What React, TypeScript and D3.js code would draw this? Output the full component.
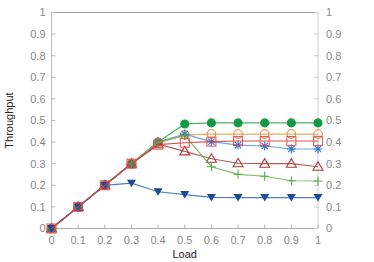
import React, { useEffect, useRef } from "react";
import * as d3 from "d3";

const loads = [0, 0.1, 0.2, 0.3, 0.4, 0.5, 0.6, 0.7, 0.8, 0.9, 1];
const yTicks = [0, 0.1, 0.2, 0.3, 0.4, 0.5, 0.6, 0.7, 0.8, 0.9, 1];

const greenCircle = [0, 0.1, 0.2, 0.3, 0.4, 0.484, 0.489, 0.489, 0.489, 0.489, 0.489];
const orangeCircle = [0, 0.1, 0.2, 0.3, 0.395, 0.433, 0.437, 0.437, 0.437, 0.437, 0.437];
const blueStar = [0, 0.1, 0.2, 0.3, 0.4, 0.437, 0.402, 0.386, 0.382, 0.368, 0.368];
const darkRedTri = [0, 0.1, 0.2, 0.3, 0.39, 0.357, 0.323, 0.302, 0.3, 0.3, 0.286];
const greenPlus = [0, 0.1, 0.2, 0.3, 0.4, 0.43, 0.286, 0.251, 0.242, 0.221, 0.22];
const navyTri = [0, 0.1, 0.2, 0.21, 0.17, 0.157, 0.144, 0.143, 0.143, 0.143, 0.143];
const redSquare = [0, 0.1, 0.2, 0.3, 0.388, 0.397, 0.402, 0.405, 0.405, 0.405, 0.405];

type Series = { values: number[]; color: string; line: string; marker: string; fill: boolean };

const series: Series[] = [
  { values: greenCircle, color: "#119944", line: "#3aaa5a", marker: "circle", fill: true },
  { values: orangeCircle, color: "#f08a3a", line: "#f0a050", marker: "circle", fill: false },
  { values: blueStar, color: "#2f78cc", line: "#5c9ee0", marker: "star", fill: false },
  { values: darkRedTri, color: "#a83a3a", line: "#b04848", marker: "triangle", fill: false },
  { values: greenPlus, color: "#5aa845", line: "#70b858", marker: "plus", fill: false },
  { values: navyTri, color: "#1a4a9a", line: "#3a70c0", marker: "triDown", fill: true },
  { values: redSquare, color: "#e84a50", line: "#d83a3a", marker: "square", fill: false },
];

export default function App() {
  const ref = useRef<SVGSVGElement>(null);

  useEffect(() => {
    const svg = d3.select(ref.current);
    svg.selectAll("*").remove();
    const left = 51.5, right = 318, top = 12.5, bottom = 228.5;
    const x = d3.scaleLinear().domain([0, 1]).range([left, right]);
    const y = d3.scaleLinear().domain([0, 1]).range([bottom, top]);
    const font = "'Liberation Sans', Arial, sans-serif";

    // frame
    svg.append("line").attr("x1", left).attr("x2", right).attr("y1", top).attr("y2", top)
      .attr("stroke", "#999");
    svg.append("line").attr("x1", left).attr("x2", left).attr("y1", top).attr("y2", bottom)
      .attr("stroke", "#bbb");
    svg.append("line").attr("x1", right).attr("x2", right).attr("y1", top).attr("y2", bottom)
      .attr("stroke", "#ccc");
    svg.append("line").attr("x1", left).attr("x2", right).attr("y1", bottom).attr("y2", bottom)
      .attr("stroke", "#aaa");

    const g = svg.append("g");
    yTicks.forEach((t) => {
      g.append("line").attr("x1", left).attr("x2", left + 4).attr("y1", y(t)).attr("y2", y(t)).attr("stroke", "#bbb");
      g.append("line").attr("x1", right - 4).attr("x2", right).attr("y1", y(t)).attr("y2", y(t)).attr("stroke", "#ccc");
      g.append("text").attr("x", left - 6).attr("y", y(t)).attr("dy", "0.35em").attr("text-anchor", "end")
        .attr("font-size", 11).attr("font-family", font).attr("fill", "#888").text(String(t));
      g.append("text").attr("x", right + 8).attr("y", y(t)).attr("dy", "0.35em").attr("text-anchor", "start")
        .attr("font-size", 11).attr("font-family", font).attr("fill", "#888").text(String(t));
    });
    loads.forEach((t) => {
      g.append("line").attr("x1", x(t)).attr("x2", x(t)).attr("y1", bottom).attr("y2", bottom - 4).attr("stroke", "#bbb");
      g.append("text").attr("x", x(t)).attr("y", bottom + 15).attr("text-anchor", "middle")
        .attr("font-size", 11).attr("font-family", font).attr("fill", "#888").text(String(t));
    });

    svg.append("text").attr("x", (left + right) / 2).attr("y", 258).attr("text-anchor", "middle")
      .attr("font-size", 11).attr("font-family", font).attr("fill", "#222").text("Load");
    svg.append("text").attr("transform", `translate(13,${(top + bottom) / 2}) rotate(-90)`)
      .attr("text-anchor", "middle").attr("font-size", 11).attr("font-family", font).attr("fill", "#222")
      .text("Throughput");

    const line = d3.line<number>().x((_, i) => x(loads[i])).y((d) => y(d));

    series.forEach((s) => {
      svg.append("path").attr("d", line(s.values)).attr("fill", "none")
        .attr("stroke", s.line).attr("stroke-width", 1.2).attr("opacity", 0.9);
      const mg = svg.append("g");
      s.values.forEach((v, i) => {
        const cx = x(loads[i]), cy = y(v);
        const fill = s.fill ? s.color : "none";
        if (s.marker === "circle") {
          mg.append("circle").attr("cx", cx).attr("cy", cy).attr("r", s.fill ? 4 : 4.3)
            .attr("fill", fill).attr("stroke", s.color).attr("stroke-width", 1.1);
        } else if (s.marker === "square") {
          mg.append("rect").attr("x", cx - 4.5).attr("y", cy - 4.5).attr("width", 9).attr("height", 9)
            .attr("fill", "none").attr("stroke", s.color).attr("stroke-width", 1.1).attr("opacity", 0.9);
        } else if (s.marker === "triangle") {
          mg.append("path").attr("d", `M${cx},${cy - 5}L${cx + 5},${cy + 3.5}L${cx - 5},${cy + 3.5}Z`)
            .attr("fill", "none").attr("stroke", s.color).attr("stroke-width", 1.1);
        } else if (s.marker === "triDown") {
          mg.append("path").attr("d", `M${cx - 4.5},${cy - 3.5}L${cx + 4.5},${cy - 3.5}L${cx},${cy + 4}Z`)
            .attr("fill", s.color);
        } else if (s.marker === "plus") {
          mg.append("path").attr("d", `M${cx - 4.5},${cy}H${cx + 4.5}M${cx},${cy - 4.5}V${cy + 4.5}`)
            .attr("stroke", s.color).attr("stroke-width", 1.1);
        } else if (s.marker === "star") {
          const r = 4.5, d = r * 0.7;
          mg.append("path")
            .attr("d", `M${cx - r},${cy}H${cx + r}M${cx},${cy - r}V${cy + r}M${cx - d},${cy - d}L${cx + d},${cy + d}M${cx - d},${cy + d}L${cx + d},${cy - d}`)
            .attr("stroke", s.color).attr("stroke-width", 1.1);
        }
      });
    });
  }, []);

  return (
    <svg ref={ref} width={374} height={262}
      style={{ position: "absolute", left: 0, top: 0, background: "#fff" }} />
  );
}
